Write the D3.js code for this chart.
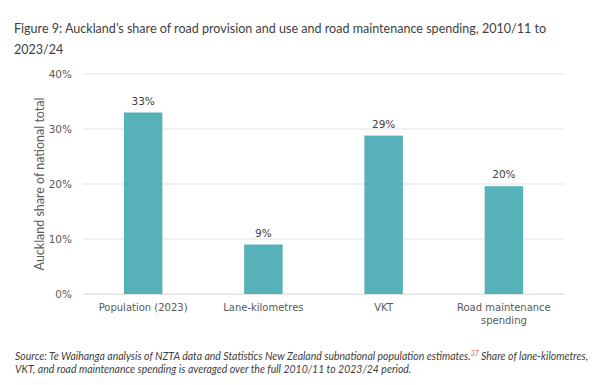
<!DOCTYPE html>
<html>
<head>
<meta charset="utf-8">
<script src="https://cdn.jsdelivr.net/npm/d3@7"></script>
<style>
  body { margin: 0; background: #fff; }
  svg { display: block; }
</style>
</head>
<body>
<svg id="chart"></svg>
<script>
const categories = ["Population (2023)", "Lane-kilometres", "VKT", "Road maintenance spending"];
const shares = [33.0, 9.0, 28.8, 19.6];
const valueLabels = ["33%", "9%", "29%", "20%"];
const yTicks = [0, 10, 20, 30, 40];

const width = 600, height = 385;
const margin = { top: 74, right: 36, bottom: 91, left: 83 };
const innerW = width - margin.left - margin.right;
const innerH = height - margin.top - margin.bottom;

const svg = d3.select("#chart").attr("width", width).attr("height", height);

// shrink/grow a text's font size so it takes a given width
function fitWidth(sel, target) {
  const size = +sel.attr("font-size");
  const w = sel.node().getComputedTextLength();
  sel.attr("font-size", (size * target / w).toFixed(2));
}

// title
const title = svg.append("text")
  .attr("font-family", "Lato, sans-serif")
  .attr("font-size", 14)
  .attr("fill", "#404040");
title.append("tspan").attr("x", 14).attr("y", 33)
  .text("Figure 9: Auckland’s share of road provision and use and road maintenance spending, 2010/11 to");
fitWidth(title, 532);
title.append("tspan").attr("x", 14).attr("y", 54).text("2023/24");

const g = svg.append("g").attr("transform", `translate(${margin.left},${margin.top})`);

const x = d3.scaleBand().domain(categories).range([0, innerW]).paddingInner(0.68).paddingOuter(0.34);
const y = d3.scaleLinear().domain([0, 40]).range([innerH, 0]);

// gridlines
g.append("g")
  .selectAll("line")
  .data(yTicks)
  .join("line")
  .attr("x1", 0).attr("x2", innerW)
  .attr("y1", d => y(d)).attr("y2", d => y(d))
  .attr("stroke", "#e3e3e3").attr("stroke-width", 1);

// y axis labels
const yAxis = g.append("g")
  .call(d3.axisLeft(y).tickValues(yTicks).tickFormat(d => d + "%").tickSize(0).tickPadding(11));
yAxis.select(".domain").remove();
yAxis.selectAll("text")
  .attr("font-family", "DejaVu Sans, sans-serif")
  .attr("font-size", 10.5)
  .attr("fill", "#595959");

// y title
const yTitle = svg.append("text")
  .attr("transform", `translate(44,${184}) rotate(-90)`)
  .attr("text-anchor", "middle")
  .attr("font-family", "Lato, sans-serif")
  .attr("font-size", 14)
  .attr("fill", "#595959")
  .text("Auckland share of national total");
fitWidth(yTitle, 173);

// bars
g.selectAll("rect.bar")
  .data(categories)
  .join("rect")
  .attr("class", "bar")
  .attr("x", d => x(d))
  .attr("width", x.bandwidth())
  .attr("y", (d, i) => y(shares[i]))
  .attr("height", (d, i) => innerH - y(shares[i]))
  .attr("fill", "#56b1b9");

// value labels
g.selectAll("text.val")
  .data(categories)
  .join("text")
  .attr("class", "val")
  .attr("x", d => x(d) + x.bandwidth() / 2)
  .attr("y", (d, i) => y(shares[i]) - 8)
  .attr("text-anchor", "middle")
  .attr("font-family", "DejaVu Sans, sans-serif")
  .attr("font-size", 10.5)
  .attr("fill", "#404040")
  .text((d, i) => valueLabels[i]);

// x axis
const xAxis = g.append("g")
  .attr("transform", `translate(0,${innerH})`)
  .call(d3.axisBottom(x).tickSize(0).tickPadding(10));
xAxis.select(".domain").attr("stroke", "#e3e3e3");
xAxis.selectAll("text")
  .attr("font-family", "DejaVu Sans, sans-serif")
  .attr("font-size", 10)
  .attr("fill", "#595959")
  .each(function (d) {
    if (d === "Road maintenance spending") {
      const t = d3.select(this);
      t.text(null);
      t.append("tspan").attr("x", 0).attr("dy", "0.71em").text("Road maintenance");
      t.append("tspan").attr("x", 0).attr("dy", "1.3em").text("spending");
      t.attr("dy", null);
    }
  });

// source note
const src = svg.append("text")
  .attr("font-family", "Lato, sans-serif")
  .attr("font-style", "italic")
  .attr("font-size", 11)
  .attr("fill", "#404040");
src.append("tspan").attr("x", 15).attr("y", 360)
  .text("Source: Te Waihanga analysis of NZTA data and Statistics New Zealand subnational population estimates.");
src.append("tspan").attr("dy", -4).attr("font-size", "0.65em").attr("fill", "#e8632b").text("37");
src.append("tspan").attr("dy", 4).text(" Share of lane-kilometres,");
fitWidth(src, 573);
src.append("tspan").attr("x", 15).attr("y", 373)
  .text("VKT, and road maintenance spending is averaged over the full 2010/11 to 2023/24 period.");
</script>
</body>
</html>
